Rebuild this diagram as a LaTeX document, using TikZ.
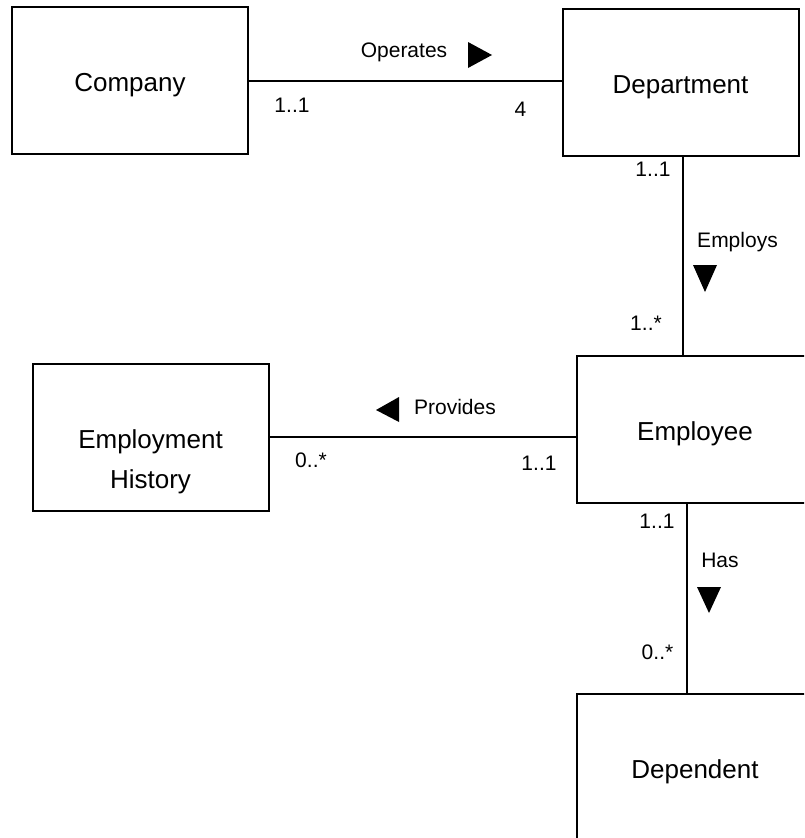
\documentclass[tikz,border=0pt]{standalone}
\usepackage{fontspec}
\setmainfont{Liberation Sans}
\begin{document}
\begin{tikzpicture}[x=1pt, y=-1pt,
  entity/.style={draw, line width=2pt, minimum width=236pt, minimum height=147pt,
    inner sep=0pt, font=\fontsize{26}{40}\selectfont, text height=22pt, text depth=0pt},
  entitytext/.style={inner sep=0pt, font=\fontsize{26}{40}\selectfont, align=center},
  link/.style={line width=2pt},
  tag/.style={inner sep=0pt, anchor=base, font=\fontsize{21}{25}\selectfont},
  dir/.style={fill=black}]
  \useasboundingbox (0,0) rectangle (804,838);
  \clip (0,0) rectangle (804,838);

  % entities
  \node[entity] (company) at (130,80.5) {Company};
  \node[entity] (dept) at (680.5,82.5) {Department};
  \node[entity] (emp) at (695,429.5) {Employee};
  \node[entity] (hist) at (150.5,437) {};
  \node[entitytext, anchor=base] (histname) at ([yshift=-51pt]hist.center) {Employment\\History};
  \node[entity] (dep) at (695,767) {Dependent};

  % relationships
  \draw[link] (company.east) -- (company.east -| dept.west);
  \draw[link] ([xshift=2.5pt]dept.south) -- ([xshift=2.5pt]dept.south |- emp.north);
  \draw[link] (emp.west |- hist.east) -- (hist.east);
  \draw[link] ([xshift=-8pt]emp.south) -- ([xshift=-8pt]emp.south |- dep.north);

  % relationship names and multiplicities
  \node[tag] (operates) at (404,57) {Operates};
  \node[tag] (m1) at (292,112) {1..1};
  \node[tag] (m2) at (520.5,116) {4};
  \node[tag] (m3) at (653,176) {1..1};
  \node[tag] (employs) at (737.5,247) {Employs};
  \node[tag] (m4) at (646,330) {1..*};
  \node[tag] (provides) at (455,414) {Provides};
  \node[tag] (m5) at (311,467) {0..*};
  \node[tag] (m6) at (539,470) {1..1};
  \node[tag] (m7) at (657,528) {1..1};
  \node[tag] (has) at (720,567) {Has};
  \node[tag] (m8) at (657.5,659) {0..*};

  % reading-direction triangles
  \fill[dir] (468,42) -- (492,55) -- (468,68) -- cycle;
  \fill[dir] (693,265) -- (717,265) -- (705,292) -- cycle;
  \fill[dir] (399,397) -- (376,410) -- (399,422) -- cycle;
  \fill[dir] (697,587) -- (721,587) -- (709,613) -- cycle;
\end{tikzpicture}
\end{document}
